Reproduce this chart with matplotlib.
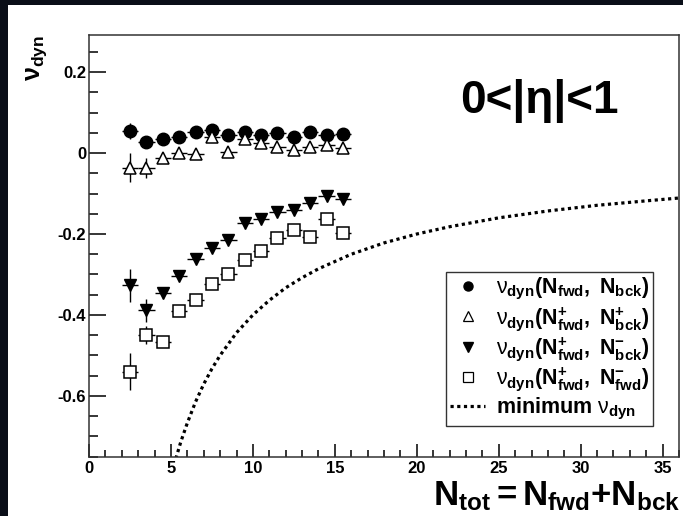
import numpy as np
import matplotlib
matplotlib.use('Agg')
import matplotlib.pyplot as plt
from matplotlib.lines import Line2D
from matplotlib.patches import Rectangle
from matplotlib.ticker import MultipleLocator

# fonts: bold Helvetica-like text, thin greek nu in math
plt.rcParams['font.family'] = ['Liberation Sans', 'DejaVu Sans']
plt.rcParams['font.weight'] = 'bold'
plt.rcParams['mathtext.fontset'] = 'custom'
plt.rcParams['mathtext.rm'] = 'Liberation Sans:bold'
plt.rcParams['mathtext.bf'] = 'Liberation Sans:bold'
plt.rcParams['mathtext.it'] = 'Liberation Sans:normal'

# ------------------------------------------------
# data
# ------------------------------------------------
n_tot = [2.5, 3.5, 4.5, 5.5, 6.5, 7.5, 8.5, 9.5, 10.5, 11.5, 12.5, 13.5, 14.5, 15.5]
x_halfwidth = [0.5] * 14

nu_fb = [0.054, 0.027, 0.035, 0.040, 0.052, 0.057, 0.045, 0.052, 0.045, 0.050, 0.040, 0.052, 0.045, 0.047]
err_fb = [0.020, 0.010, 0.008, 0.008, 0.008, 0.008, 0.008, 0.008, 0.008, 0.008, 0.008, 0.008, 0.008, 0.008]

nu_pp = [-0.036, -0.036, -0.013, 0.000, -0.003, 0.039, 0.002, 0.035, 0.026, 0.016, 0.007, 0.016, 0.020, 0.012]
err_pp = [0.036, 0.025, 0.010, 0.008, 0.008, 0.008, 0.008, 0.008, 0.008, 0.008, 0.008, 0.008, 0.008, 0.008]

nu_pm = [-0.327, -0.389, -0.347, -0.304, -0.261, -0.235, -0.215, -0.172, -0.164, -0.146, -0.141, -0.124, -0.106, -0.114]
err_pm = [0.041, 0.029, 0.010, 0.008, 0.008, 0.008, 0.008, 0.008, 0.008, 0.008, 0.008, 0.008, 0.008, 0.008]

nu_ff = [-0.540, -0.450, -0.467, -0.390, -0.362, -0.324, -0.300, -0.265, -0.242, -0.211, -0.190, -0.207, -0.164, -0.197]
err_ff = [0.045, 0.022, 0.012, 0.008, 0.008, 0.008, 0.008, 0.008, 0.008, 0.008, 0.008, 0.008, 0.008, 0.008]

min_x = [5.3, 5.6, 6.0, 6.5, 7.0, 7.5, 8.0, 9.0, 10.0, 11.0, 12.0, 13.0, 14.0, 16.0, 18.0, 20.0, 22.0, 25.0, 28.0, 31.0, 34.0, 36.0]
min_y = [-0.755, -0.714, -0.667, -0.615, -0.571, -0.533, -0.500, -0.444, -0.400, -0.364, -0.333, -0.308, -0.286,
         -0.250, -0.222, -0.200, -0.182, -0.160, -0.143, -0.129, -0.118, -0.111]

labels = [
    r'$\nu_{\mathbf{dyn}}\mathbf{(N_{fwd},\ N_{bck})}$',
    r'$\nu_{\mathbf{dyn}}\mathbf{(N^{+}_{fwd},\ N^{+}_{bck})}$',
    r'$\nu_{\mathbf{dyn}}\mathbf{(N^{+}_{fwd},\ N^{-}_{bck})}$',
    r'$\nu_{\mathbf{dyn}}\mathbf{(N^{+}_{fwd},\ N^{-}_{fwd})}$',
    r'$\mathbf{minimum}\ \nu_{\mathbf{dyn}}$',
]

# ------------------------------------------------
# figure: dark slide with a white panel
# ------------------------------------------------
fig = plt.figure(figsize=(6.83, 5.16), dpi=100, facecolor='#0a0e18')
fig.patches.append(Rectangle((8 / 683, 0), 1 - 8 / 683, 1 - 5 / 516,
                             transform=fig.transFigure, facecolor='white',
                             edgecolor='none', zorder=-10))

ax = fig.add_axes([89 / 683, 1 - 456.5 / 516, (679 - 89) / 683, (456.5 - 35) / 516])
ax.set_zorder(2)
ax.set_facecolor('white')

ebkw = dict(linestyle='none', ecolor='black', elinewidth=1.0, capsize=0, markersize=9)
ax.errorbar(n_tot, nu_fb, yerr=err_fb, xerr=x_halfwidth, marker='o',
            mfc='black', mec='black', **ebkw)
ax.errorbar(n_tot, nu_pp, yerr=err_pp, xerr=x_halfwidth, marker='^',
            mfc='white', mec='black', mew=1.1, **ebkw)
ax.errorbar(n_tot, nu_pm, yerr=err_pm, xerr=x_halfwidth, marker='v',
            mfc='black', mec='black', **ebkw)
ax.errorbar(n_tot, nu_ff, yerr=err_ff, xerr=x_halfwidth, marker='s',
            mfc='white', mec='black', mew=1.1, **ebkw)
ax.plot(min_x, min_y, color='black', lw=2.3, dashes=(1, 1.1), dash_capstyle='butt')

ax.set_xlim(0, 36)
ax.set_ylim(-0.75, 0.292)
ax.xaxis.set_major_locator(MultipleLocator(5))
ax.xaxis.set_minor_locator(MultipleLocator(1))
ax.yaxis.set_minor_locator(MultipleLocator(0.05))
ax.set_yticks([-0.6, -0.4, -0.2, 0, 0.2])
ax.set_yticklabels(['-0.6', '-0.4', '-0.2', '0', '0.2'])

ax.tick_params(axis='y', which='major', direction='in', length=12, width=1.1, pad=2, labelsize=12)
ax.tick_params(axis='y', which='minor', direction='in', length=6.5, width=1.1)
ax.tick_params(axis='x', which='major', direction='in', length=9.5, width=1.1, pad=3, labelsize=12)
ax.tick_params(axis='x', which='minor', direction='in', length=5, width=1.1)
for s in ax.spines.values():
    s.set_linewidth(1.1)
    s.set_color('#333333')

# legend with plain markers
handles = [
    Line2D([], [], ls='none', marker='o', mfc='black', mec='black', ms=6.5),
    Line2D([], [], ls='none', marker='^', mfc='white', mec='black', ms=6.5, mew=0.9),
    Line2D([], [], ls='none', marker='v', mfc='black', mec='black', ms=6.5),
    Line2D([], [], ls='none', marker='s', mfc='white', mec='black', ms=6.5, mew=0.9),
    Line2D([], [], color='black', lw=2.3, dashes=(1, 1.1)),
]
leg = ax.legend(handles, labels, loc='upper left', bbox_to_anchor=(446 / 683, 1 - 272 / 516),
                bbox_transform=fig.transFigure, fontsize=15.5, frameon=True, fancybox=False,
                edgecolor='black', borderpad=0.2, labelspacing=0.12, handlelength=1.6,
                handletextpad=0.5, borderaxespad=0)
leg.get_frame().set_linewidth(1.0)

# texts
fig.text(539 / 683, 1 - 113 / 516, '0<|η|<1', fontsize=33, fontweight='bold',
         ha='center', va='baseline')
fig.text(37 / 683, 1 - 58 / 516, r'$\mathbf{\nu_{dyn}}$', fontsize=18, rotation=90,
         ha='center', va='center')
fig.text(680 / 683, 1 - 496 / 516, r'$\mathbf{N_{tot} = N_{fwd}{+}N_{bck}}$', fontsize=25,
         ha='right', va='center')

fig.savefig('out.png', dpi=100, facecolor=fig.get_facecolor())
